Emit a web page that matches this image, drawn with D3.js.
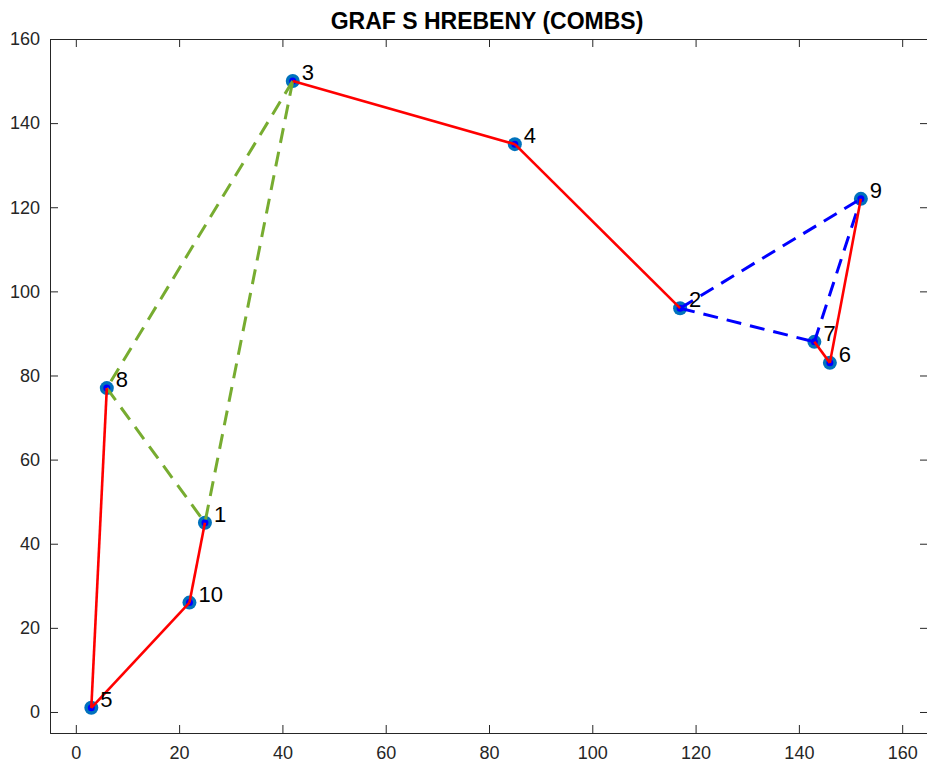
<!DOCTYPE html>
<html>
<head>
<meta charset="utf-8">
<script src="https://cdn.jsdelivr.net/npm/d3@7"></script>
<style>
  body { margin: 0; background: #fff; }
  text { font-family: "Liberation Sans", Arial, sans-serif; }
</style>
</head>
<body>
<div id="chart"></div>
<script>
// node positions
var nodeIds = [1, 2, 3, 4, 5, 6, 7, 8, 9, 10];
var nodeX = [25, 117, 42, 85, 3, 146, 143, 6, 152, 22];
var nodeY = [45, 96, 150, 135, 1, 83, 88, 77, 122, 26];

// edges as pairs of node ids
var redEdges = [[1, 10], [10, 5], [5, 8], [3, 4], [4, 2], [9, 6], [6, 7]];
var greenComb = [[3, 8], [3, 1], [8, 1]];
var blueComb = [[2, 9], [2, 7], [7, 9]];

var xTicks = [0, 20, 40, 60, 80, 100, 120, 140, 160];
var yTicks = [0, 20, 40, 60, 80, 100, 120, 140, 160];

var width = 927, height = 766;
var pLeft = 50, pRight = 928, pTop = 39, pBottom = 733;

var x = d3.scaleLinear().domain([-5, 165]).range([pLeft, pRight]);
var y = d3.scaleLinear().domain([-5, 160]).range([pBottom, pTop]);

var svg = d3.select("#chart").append("svg")
    .attr("width", width)
    .attr("height", height);

// ticks inward on all four sides
var tl = 8;
svg.append("g").attr("transform", "translate(0," + pBottom + ")")
    .call(d3.axisBottom(x).tickValues(xTicks).tickSize(-tl).tickPadding(tl + 5));
svg.append("g").attr("transform", "translate(0," + pTop + ")")
    .call(d3.axisTop(x).tickValues(xTicks).tickSize(-tl).tickFormat(""));
svg.append("g").attr("transform", "translate(" + pLeft + ",0)")
    .call(d3.axisLeft(y).tickValues(yTicks).tickSize(-tl).tickPadding(tl + 2));
svg.append("g").attr("transform", "translate(" + pRight + ",0)")
    .call(d3.axisRight(y).tickValues(yTicks).tickSize(-tl).tickFormat(""));

svg.selectAll(".domain").attr("stroke", "#262626").attr("stroke-width", 1);
svg.selectAll(".tick line").attr("stroke", "#262626");
svg.selectAll(".tick text").attr("fill", "#262626").style("font-size", "18px");

svg.append("text")
    .attr("x", (pLeft + pRight) / 2 - 2)
    .attr("y", 29)
    .attr("text-anchor", "middle")
    .style("font-size", "23px")
    .style("font-weight", "bold")
    .attr("fill", "#000")
    .text("GRAF S HREBENY (COMBS)");

function px(id) { return x(nodeX[id - 1]); }
function py(id) { return y(nodeY[id - 1]); }

// markers
var nodes = svg.append("g").selectAll("g")
    .data(nodeIds)
    .enter().append("g");

nodes.append("circle")
    .attr("cx", px).attr("cy", py).attr("r", 7)
    .attr("fill", "#0072BD");
nodes.append("circle")
    .attr("cx", px).attr("cy", py).attr("r", 3.5)
    .attr("fill", "#0000FF");

function drawEdges(edges, color, dash, w) {
  svg.append("g").selectAll("line")
      .data(edges)
      .enter().append("line")
      .attr("x1", function(d) { return px(d[0]); })
      .attr("y1", function(d) { return py(d[0]); })
      .attr("x2", function(d) { return px(d[1]); })
      .attr("y2", function(d) { return py(d[1]); })
      .attr("stroke", color)
      .attr("stroke-width", w)
      .attr("stroke-dasharray", dash);
}

drawEdges(greenComb, "#77AC30", "15,9", 3);
drawEdges(blueComb, "#0000FF", "15,9", 3);
drawEdges(redEdges, "#FF0000", null, 2.6);

// labels
svg.append("g").selectAll("text")
    .data(nodeIds)
    .enter().append("text")
    .attr("x", function(d) { return px(d) + 9; })
    .attr("y", function(d) { return py(d) - 1; })
    .style("font-size", "22px")
    .attr("fill", "#000")
    .text(function(d) { return d; });
</script>
</body>
</html>
